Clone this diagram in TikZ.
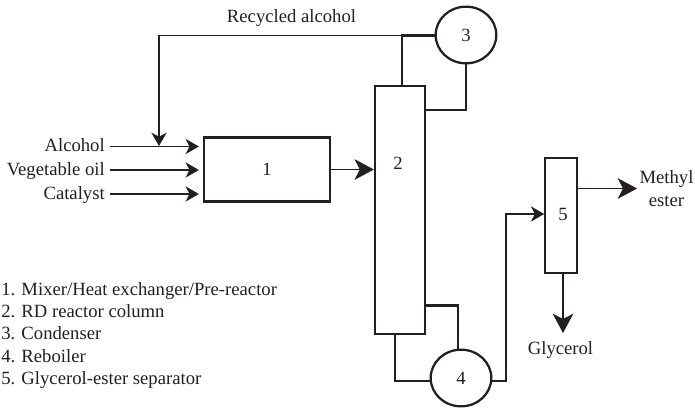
\documentclass[tikz,border=0pt]{standalone}
\usepackage{fontspec}
\setmainfont{Liberation Serif}
\usepackage{tikz}
\usetikzlibrary{positioning,arrows.meta,shapes.geometric,calc}
\definecolor{inkline}{RGB}{35,31,32}
\tikzset{
  tag/.style={text=inkline,inner sep=0pt,font=\fontsize{14}{17}\selectfont},
  feedtag/.style={tag,anchor=east,text height=10.5pt,text depth=2.5pt},
  unitbox/.style={tag,rectangle,draw=inkline,line width=1.7pt,minimum width=#1},
  unitround/.style={tag,ellipse,draw=inkline,line width=1.7pt,minimum width=45.5pt,minimum height=42.5pt},
  feed/.style={draw=inkline,line width=0.8pt,-{Stealth[length=10pt,width=11.5pt,inset=3pt]}},
  bigfeed/.style={draw=inkline,line width=0.8pt,-{Stealth[length=14.5pt,width=15.5pt,inset=4pt]}},
  pipe/.style={draw=inkline,line width=1.7pt}
}
\begin{document}
\begin{tikzpicture}[x=0.75pt,y=-0.75pt]
  \useasboundingbox (0,0) rectangle (695,407);
  \node[unitbox=94.5pt,minimum height=48pt] (mixer) at (267,169.5) {1};
  \node[unitbox=37.5pt,minimum height=185.5pt] (column) at (400,210) {};
  \node[tag] (columnlabel) at (398,163) {2};
  \node[unitround] (condenser) at (466,35) {3};
  \node[unitround] (reboiler) at (461,378) {4};
  \node[unitbox=23.5pt,minimum height=86pt] (separator) at (561,215.5) {};
  \node[tag] (separatorlabel) at (563,214) {5};
  % feeds
  \node[feedtag] (alcohol) at (105,146.5) {Alcohol};
  \node[feedtag] (oil) at (105,170) {Vegetable oil};
  \node[feedtag] (catalyst) at (105,194) {Catalyst};
  \draw[feed,shorten >=3pt] ([xshift=3.75pt]alcohol.east) -- (alcohol.east -| mixer.west);
  \draw[feed,shorten >=3pt] ([xshift=3.75pt]oil.east) -- (oil.east -| mixer.west);
  \draw[feed,shorten >=3pt] ([xshift=3.75pt]catalyst.east) -- (catalyst.east -| mixer.west);
  \draw[bigfeed] (mixer.east) -- (mixer.east -| column.west);
  % recycle loop
  \node[tag] (recycled) at (291.5,18) {Recycled alcohol};
  \coordinate (split) at (402,35.5);
  \coordinate (corner) at (159,35.5);
  \coordinate (drop) at (159,146);
  \draw[pipe] (split |- column.north) -- (split) -- (split -| condenser.west);
  \draw[feed] (split) -- (corner) -- (drop);
  \coordinate (topreturn) at (466,110);
  \draw[pipe] (condenser.south) -- (topreturn) -- (topreturn -| column.east);
  % reboiler loop
  \coordinate (lowdraw) at (458,305.5);
  \coordinate (lowreturn) at (395,381);
  \coordinate (bottoms) at (506,381);
  \coordinate (sidefeed) at (506,214);
  \draw[pipe] (lowdraw -| column.east) -- (lowdraw) -- (reboiler.north -| lowdraw);
  \draw[pipe] (lowreturn |- column.south) -- (lowreturn) -- (lowreturn -| reboiler.west);
  \draw[feed] (bottoms -| reboiler.east) -- (bottoms) -- (sidefeed) -- (sidefeed -| separator.west);
  % products
  \node[tag,align=center] (methyl) at (666.5,188.5) {Methyl\\ester};
  \node[tag] (glycerol) at (560.5,350) {Glycerol};
  \coordinate (methyltip) at (637,188.5);
  \coordinate (glyceroltip) at (563,333);
  \draw[bigfeed] (methyltip -| separator.east) -- (methyltip);
  \draw[bigfeed] (glyceroltip |- separator.south) -- (glyceroltip);
  % key
  \node[tag,anchor=north west,align=left,font=\fontsize{14}{16.7}\selectfont] (key) at (1,282) {1. Mixer/Heat exchanger/Pre-reactor\\2. RD reactor column\\3. Condenser\\4. Reboiler\\5. Glycerol-ester separator};
\end{tikzpicture}
\end{document}
